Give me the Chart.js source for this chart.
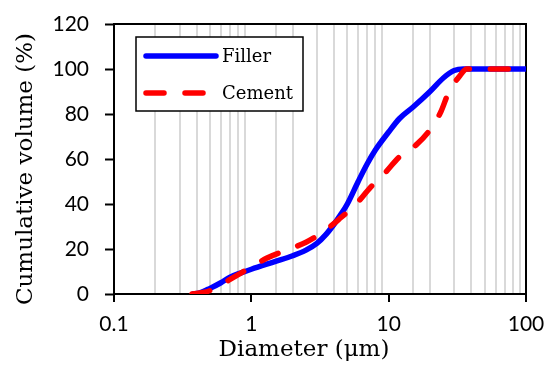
<!DOCTYPE html>
<html>
<head>
<meta charset="utf-8">
<script src="https://cdn.jsdelivr.net/npm/chart.js@4.4.0/dist/chart.umd.min.js"></script>
<style>
  html, body { margin: 0; padding: 0; background: #fff; }
  #wrap { width: 553px; height: 365px; }
</style>
</head>
<body>
<div id="wrap"><canvas id="myChart" width="553" height="365"></canvas></div>
<script>
// particle size distributions
var fillerD = [0.37, 0.42, 0.5, 0.6, 0.7, 0.85, 1.0, 1.5, 2.0, 2.5, 3.0, 3.5, 4.0, 4.5, 5.0, 6.0, 7.0, 8.0, 10, 12, 15, 20, 25, 30, 35, 50, 100];
var fillerV = [0, 0.5, 2.5, 5, 7.5, 9.5, 11, 14.5, 17, 19.5, 22.5, 26.5, 31, 35.5, 40, 50, 58, 64, 72, 78, 83, 90, 96, 99.3, 100, 100, 100];

var cementD = [0.37, 0.5, 0.7, 1.0, 1.3, 1.8, 2.5, 3.4, 4.5, 5.7, 7.4, 9.3, 12, 16, 20, 24, 27.5, 33, 37, 50, 100];
var cementV = [0, 1.5, 6.5, 12, 16, 19.5, 23, 28, 34, 39.5, 47.5, 53.5, 61, 66.5, 73, 81, 90, 97, 100, 100, 100];

var seriesNames = ['Filler', 'Cement'];
var xTickLabels = ['0.1', '1', '10', '100'];
var xTitle = 'Diameter (μm)';
var yTitle = 'Cumulative volume (%)';

function toPoints(xs, ys) {
    var pts = [];
    for (let i = 0; i < xs.length; i++) {
        pts.push({x: xs[i], y: ys[i]});
    }
    return pts;
}

function isDecade(v) {
    var l = Math.log10(v);
    return Math.abs(l - Math.round(l)) < 1e-6;
}

var serif = '"DejaVu Serif", serif';
var dashPattern = [18, 21];

// frame around the plot area
var framePlugin = {
    id: 'frame',
    beforeDatasetsDraw: function (chart) {
        var a = chart.chartArea, ctx = chart.ctx;
        ctx.save();
        ctx.strokeStyle = '#000';
        ctx.lineWidth = 2;
        ctx.strokeRect(a.left, a.top, a.right - a.left, a.bottom - a.top);
        ctx.restore();
    }
};

// boxed legend inside the plot + axis titles
var legendPlugin = {
    id: 'boxLegend',
    afterDraw: function (chart) {
        var ctx = chart.ctx;
        ctx.save();
        ctx.fillStyle = '#fff';
        ctx.fillRect(136, 37, 167, 74);
        ctx.strokeStyle = '#000';
        ctx.lineWidth = 1.5;
        ctx.strokeRect(136, 37, 167, 74);

        var rows = [56, 93];
        chart.data.datasets.forEach(function (ds, i) {
            ctx.beginPath();
            ctx.strokeStyle = ds.borderColor;
            ctx.lineWidth = ds.borderWidth;
            ctx.lineCap = 'round';
            ctx.setLineDash(ds.borderDash || []);
            ctx.moveTo(146, rows[i]);
            ctx.lineTo(216, rows[i]);
            ctx.stroke();
            ctx.setLineDash([]);
            ctx.fillStyle = '#000';
            ctx.font = '18px ' + serif;
            ctx.textAlign = 'left';
            ctx.textBaseline = 'middle';
            ctx.fillText(ds.label, 222, rows[i] + 1);
        });

        ctx.fillStyle = '#000';
        ctx.font = '23px ' + serif;
        ctx.textAlign = 'center';
        ctx.textBaseline = 'middle';
        ctx.fillText(xTitle, 304, 350);
        ctx.translate(26, 169);
        ctx.rotate(-Math.PI / 2);
        ctx.fillText(yTitle, 0, 0);
        ctx.restore();
    }
};

function makeChart() {
    var ctx = document.getElementById('myChart').getContext('2d');
    var chart = new Chart(ctx, {
        type: 'line',
        data: {
            datasets: [{
                label: seriesNames[0],
                data: toPoints(fillerD, fillerV),
                borderColor: '#0000ff',
                borderWidth: 5.5,
                pointRadius: 0,
                cubicInterpolationMode: 'monotone',
                fill: false,
                order: 2
            }, {
                label: seriesNames[1],
                data: toPoints(cementD, cementV),
                borderColor: '#ff0000',
                borderWidth: 5.5,
                borderDash: dashPattern,
                borderCapStyle: 'round',
                pointRadius: 0,
                cubicInterpolationMode: 'monotone',
                fill: false,
                order: 1
            }]
        },
        options: {
            responsive: false,
            animation: false,
            layout: { padding: { left: 0, right: 27, top: 24, bottom: 0 } },
            plugins: {
                legend: { display: false },
                tooltip: { enabled: false }
            },
            scales: {
                x: {
                    type: 'logarithmic',
                    min: 0.1,
                    max: 100,
                    afterFit: function (scale) {
                        scale.height = 71;
                        scale.paddingLeft = 0;
                        scale.paddingRight = 0;
                    },
                    border: { display: true, color: '#000', width: 2 },
                    grid: {
                        color: function (c) { return c.tick && isDecade(c.tick.value) ? 'rgba(0,0,0,0)' : '#d9d9d9'; },
                        lineWidth: 2,
                        tickColor: function (c) { return c.tick && isDecade(c.tick.value) ? '#000' : 'rgba(0,0,0,0)'; },
                        tickWidth: 2,
                        tickLength: 8
                    },
                    ticks: {
                        autoSkip: false,
                        maxRotation: 0,
                        padding: 10,
                        color: '#000',
                        font: { family: 'Lato', size: 21 },
                        callback: function (value) {
                            if (!isDecade(value)) return '';
                            return xTickLabels[Math.round(Math.log10(value)) + 1];
                        }
                    }
                },
                y: {
                    min: 0,
                    max: 120,
                    afterFit: function (scale) {
                        scale.width = 114;
                        scale.paddingTop = 0;
                        scale.paddingBottom = 0;
                    },
                    border: { display: true, color: '#000', width: 2 },
                    grid: {
                        drawOnChartArea: false,
                        tickColor: '#000',
                        tickWidth: 2,
                        tickLength: 9
                    },
                    ticks: {
                        stepSize: 20,
                        padding: 16,
                        color: '#000',
                        font: { family: 'Lato', size: 21 }
                    }
                }
            }
        },
        plugins: [framePlugin, legendPlugin]
    });
}

Promise.all([
    document.fonts.load('21px Lato'),
    document.fonts.load('23px "DejaVu Serif"')
]).then(makeChart, makeChart);
</script>
</body>
</html>
